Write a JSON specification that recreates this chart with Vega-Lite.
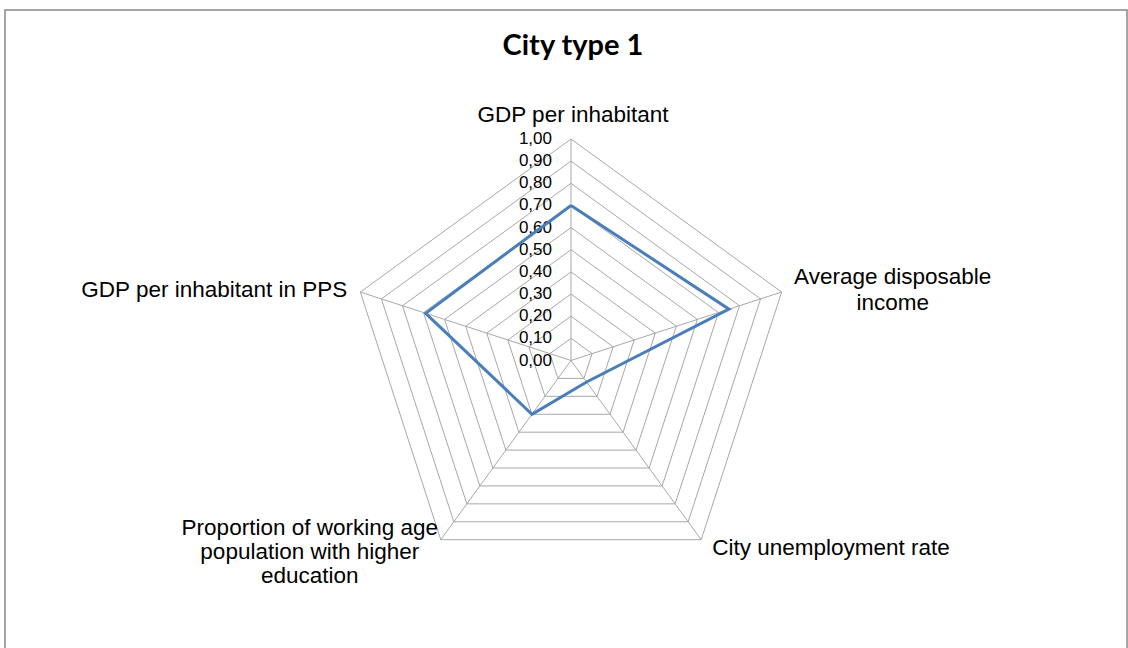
{
  "$schema": "https://vega.github.io/schema/vega-lite/v6.json",
  "width": 1128,
  "height": 648,
  "autosize": {"type": "fit", "contains": "padding"},
  "padding": {"left": 5, "top": 10, "right": 1, "bottom": -2},
  "background": "white",
  "config": {
    "view": {"stroke": "#888888", "strokeWidth": 1.5},
    "text": {"font": "Liberation Sans", "color": "#000000"}
  },
  "title": {
    "text": "City type 1",
    "font": "Lato",
    "fontSize": 29,
    "fontWeight": "bold",
    "color": "#000000",
    "anchor": "middle",
    "frame": "group",
    "offset": -74,
    "baseline": "alphabetic",
    "dx": 7
  },
  "datasets": {
    "series": [
      {"indicator": "GDP per inhabitant", "k": 0, "r": 0.70},
      {"indicator": "Average disposable income", "k": 1, "r": 0.75},
      {"indicator": "City unemployment rate", "k": 2, "r": 0.12},
      {"indicator": "Proportion of working age population with higher education", "k": 3, "r": 0.30},
      {"indicator": "GDP per inhabitant in PPS", "k": 4, "r": 0.69},
      {"indicator": "GDP per inhabitant", "k": 5, "r": 0.70}
    ],
    "axes": [
      {"name": "GDP per inhabitant", "k": 0, "r": 1},
      {"name": "Average disposable\nincome", "k": 1, "r": 1},
      {"name": "City unemployment rate", "k": 2, "r": 1},
      {"name": "Proportion of working age\npopulation with higher\neducation", "k": 3, "r": 1},
      {"name": "GDP per inhabitant in PPS", "k": 4, "r": 1}
    ],
    "ticks": [
      {"r": 0.0, "label": "0,00"}, {"r": 0.1, "label": "0,10"}, {"r": 0.2, "label": "0,20"},
      {"r": 0.3, "label": "0,30"}, {"r": 0.4, "label": "0,40"}, {"r": 0.5, "label": "0,50"},
      {"r": 0.6, "label": "0,60"}, {"r": 0.7, "label": "0,70"}, {"r": 0.8, "label": "0,80"},
      {"r": 0.9, "label": "0,90"}, {"r": 1.0, "label": "1,00"}
    ],
    "grid": [
      {"r": 0.1, "k": 0}, {"r": 0.1, "k": 1}, {"r": 0.1, "k": 2}, {"r": 0.1, "k": 3}, {"r": 0.1, "k": 4}, {"r": 0.1, "k": 5},
      {"r": 0.2, "k": 0}, {"r": 0.2, "k": 1}, {"r": 0.2, "k": 2}, {"r": 0.2, "k": 3}, {"r": 0.2, "k": 4}, {"r": 0.2, "k": 5},
      {"r": 0.3, "k": 0}, {"r": 0.3, "k": 1}, {"r": 0.3, "k": 2}, {"r": 0.3, "k": 3}, {"r": 0.3, "k": 4}, {"r": 0.3, "k": 5},
      {"r": 0.4, "k": 0}, {"r": 0.4, "k": 1}, {"r": 0.4, "k": 2}, {"r": 0.4, "k": 3}, {"r": 0.4, "k": 4}, {"r": 0.4, "k": 5},
      {"r": 0.5, "k": 0}, {"r": 0.5, "k": 1}, {"r": 0.5, "k": 2}, {"r": 0.5, "k": 3}, {"r": 0.5, "k": 4}, {"r": 0.5, "k": 5},
      {"r": 0.6, "k": 0}, {"r": 0.6, "k": 1}, {"r": 0.6, "k": 2}, {"r": 0.6, "k": 3}, {"r": 0.6, "k": 4}, {"r": 0.6, "k": 5},
      {"r": 0.7, "k": 0}, {"r": 0.7, "k": 1}, {"r": 0.7, "k": 2}, {"r": 0.7, "k": 3}, {"r": 0.7, "k": 4}, {"r": 0.7, "k": 5},
      {"r": 0.8, "k": 0}, {"r": 0.8, "k": 1}, {"r": 0.8, "k": 2}, {"r": 0.8, "k": 3}, {"r": 0.8, "k": 4}, {"r": 0.8, "k": 5},
      {"r": 0.9, "k": 0}, {"r": 0.9, "k": 1}, {"r": 0.9, "k": 2}, {"r": 0.9, "k": 3}, {"r": 0.9, "k": 4}, {"r": 0.9, "k": 5},
      {"r": 1.0, "k": 0}, {"r": 1.0, "k": 1}, {"r": 1.0, "k": 2}, {"r": 1.0, "k": 3}, {"r": 1.0, "k": 4}, {"r": 1.0, "k": 5}
    ]
  },
  "layer": [
    {
      "data": {"name": "grid"},
      "transform": [
        {"calculate": "datum.r*sin(2*PI*datum.k/5)", "as": "px"},
        {"calculate": "datum.r*cos(2*PI*datum.k/5)", "as": "py"}
      ],
      "mark": {"type": "line", "color": "#A8A8A8", "strokeWidth": 1},
      "encoding": {
        "x": {"field": "px", "type": "quantitative", "scale": {"domain": [-2.5553, 2.5102], "nice": false, "zero": false}, "axis": null},
        "y": {"field": "py", "type": "quantitative", "scale": {"domain": [-1.307, 1.5824], "nice": false, "zero": false}, "axis": null},
        "detail": {"field": "r", "type": "nominal"},
        "order": {"field": "k", "type": "quantitative"}
      }
    },
    {
      "data": {"name": "axes"},
      "transform": [
        {"calculate": "datum.r*sin(2*PI*datum.k/5)", "as": "px"},
        {"calculate": "datum.r*cos(2*PI*datum.k/5)", "as": "py"}
      ],
      "mark": {"type": "rule", "color": "#A8A8A8", "strokeWidth": 1},
      "encoding": {
        "x": {"field": "px", "type": "quantitative", "scale": {"domain": [-2.5553, 2.5102], "nice": false, "zero": false}, "axis": null},
        "y": {"field": "py", "type": "quantitative", "scale": {"domain": [-1.307, 1.5824], "nice": false, "zero": false}, "axis": null},
        "x2": {"datum": 0},
        "y2": {"datum": 0}
      }
    },
    {
      "data": {"name": "ticks"},
      "mark": {"type": "text", "align": "right", "baseline": "middle", "dx": -19, "fontSize": 17, "font": "Liberation Sans", "color": "#000000"},
      "encoding": {
        "x": {"datum": 0, "type": "quantitative", "scale": {"domain": [-2.5553, 2.5102], "nice": false, "zero": false}, "axis": null},
        "y": {"field": "r", "type": "quantitative", "scale": {"domain": [-1.307, 1.5824], "nice": false, "zero": false}, "axis": null},
        "text": {"field": "label", "type": "nominal"}
      }
    },
    {
      "data": {"name": "axes"},
      "transform": [
        {"filter": "datum.k == 0"},
        {"calculate": "datum.r*sin(2*PI*datum.k/5)", "as": "px"},
        {"calculate": "datum.r*cos(2*PI*datum.k/5)", "as": "py"}
      ],
      "mark": {"type": "text", "align": "center", "baseline": "middle", "dx": 2, "dy": -24, "fontSize": 22.5, "font": "Liberation Sans", "lineBreak": "\n", "lineHeight": 25},
      "encoding": {
        "x": {"field": "px", "type": "quantitative", "scale": {"domain": [-2.5553, 2.5102], "nice": false, "zero": false}, "axis": null},
        "y": {"field": "py", "type": "quantitative", "scale": {"domain": [-1.307, 1.5824], "nice": false, "zero": false}, "axis": null},
        "text": {"field": "name", "type": "nominal"}
      }
    },
    {
      "data": {"name": "axes"},
      "transform": [
        {"filter": "datum.k == 1"},
        {"calculate": "datum.r*sin(2*PI*datum.k/5)", "as": "px"},
        {"calculate": "datum.r*cos(2*PI*datum.k/5)", "as": "py"}
      ],
      "mark": {"type": "text", "align": "center", "baseline": "middle", "dx": 111, "dy": -15, "fontSize": 22.5, "font": "Liberation Sans", "lineBreak": "\n", "lineHeight": 26},
      "encoding": {
        "x": {"field": "px", "type": "quantitative", "scale": {"domain": [-2.5553, 2.5102], "nice": false, "zero": false}, "axis": null},
        "y": {"field": "py", "type": "quantitative", "scale": {"domain": [-1.307, 1.5824], "nice": false, "zero": false}, "axis": null},
        "text": {"field": "name", "type": "nominal"}
      }
    },
    {
      "data": {"name": "axes"},
      "transform": [
        {"filter": "datum.k == 2"},
        {"calculate": "datum.r*sin(2*PI*datum.k/5)", "as": "px"},
        {"calculate": "datum.r*cos(2*PI*datum.k/5)", "as": "py"}
      ],
      "mark": {"type": "text", "align": "left", "baseline": "middle", "dx": 11, "dy": 8, "fontSize": 22.5, "font": "Liberation Sans", "lineBreak": "\n", "lineHeight": 25},
      "encoding": {
        "x": {"field": "px", "type": "quantitative", "scale": {"domain": [-2.5553, 2.5102], "nice": false, "zero": false}, "axis": null},
        "y": {"field": "py", "type": "quantitative", "scale": {"domain": [-1.307, 1.5824], "nice": false, "zero": false}, "axis": null},
        "text": {"field": "name", "type": "nominal"}
      }
    },
    {
      "data": {"name": "axes"},
      "transform": [
        {"filter": "datum.k == 3"},
        {"calculate": "datum.r*sin(2*PI*datum.k/5)", "as": "px"},
        {"calculate": "datum.r*cos(2*PI*datum.k/5)", "as": "py"}
      ],
      "mark": {"type": "text", "align": "center", "baseline": "middle", "dx": -131, "dy": -12, "fontSize": 22.5, "font": "Liberation Sans", "lineBreak": "\n", "lineHeight": 24},
      "encoding": {
        "x": {"field": "px", "type": "quantitative", "scale": {"domain": [-2.5553, 2.5102], "nice": false, "zero": false}, "axis": null},
        "y": {"field": "py", "type": "quantitative", "scale": {"domain": [-1.307, 1.5824], "nice": false, "zero": false}, "axis": null},
        "text": {"field": "name", "type": "nominal"}
      }
    },
    {
      "data": {"name": "axes"},
      "transform": [
        {"filter": "datum.k == 4"},
        {"calculate": "datum.r*sin(2*PI*datum.k/5)", "as": "px"},
        {"calculate": "datum.r*cos(2*PI*datum.k/5)", "as": "py"}
      ],
      "mark": {"type": "text", "align": "right", "baseline": "middle", "dx": -13, "dy": -2, "fontSize": 22.5, "font": "Liberation Sans", "lineBreak": "\n", "lineHeight": 25},
      "encoding": {
        "x": {"field": "px", "type": "quantitative", "scale": {"domain": [-2.5553, 2.5102], "nice": false, "zero": false}, "axis": null},
        "y": {"field": "py", "type": "quantitative", "scale": {"domain": [-1.307, 1.5824], "nice": false, "zero": false}, "axis": null},
        "text": {"field": "name", "type": "nominal"}
      }
    },
    {
      "data": {"name": "series"},
      "transform": [
        {"calculate": "datum.r*sin(2*PI*datum.k/5)", "as": "px"},
        {"calculate": "datum.r*cos(2*PI*datum.k/5)", "as": "py"}
      ],
      "mark": {"type": "line", "color": "#4A7EBB", "strokeWidth": 3, "strokeJoin": "miter"},
      "encoding": {
        "x": {"field": "px", "type": "quantitative", "scale": {"domain": [-2.5553, 2.5102], "nice": false, "zero": false}, "axis": null},
        "y": {"field": "py", "type": "quantitative", "scale": {"domain": [-1.307, 1.5824], "nice": false, "zero": false}, "axis": null},
        "order": {"field": "k", "type": "quantitative"}
      }
    }
  ]
}
